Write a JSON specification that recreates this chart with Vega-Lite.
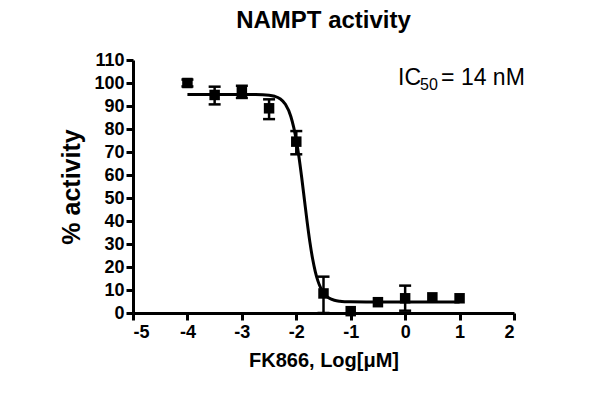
{
  "$schema": "https://vega.github.io/schema/vega-lite/v6.json",
  "autosize": "none",
  "width": 381,
  "height": 253,
  "padding": {"left": 133, "top": 60, "right": 86, "bottom": 81},
  "background": "white",
  "title": {
    "text": "NAMPT activity",
    "font": "Liberation Sans",
    "fontSize": 24,
    "fontWeight": "bold",
    "color": "black",
    "anchor": "middle",
    "frame": "group",
    "offset": 18
  },
  "config": {
    "view": {"stroke": null},
    "axis": {
      "grid": false,
      "domainColor": "black",
      "domainWidth": 3,
      "tickColor": "black",
      "tickWidth": 3,
      "tickSize": 7,
      "labelFont": "Liberation Sans",
      "labelFontWeight": "bold",
      "labelFontSize": 18,
      "labelColor": "black",
      "titleFont": "Liberation Sans",
      "titleFontWeight": "bold",
      "titleColor": "black"
    }
  },
  "datasets": {
    "points": [
      {"logc": -4.0, "activity": 100.0, "lo": 98.5, "hi": 101.5},
      {"logc": -3.5, "activity": 94.8, "lo": 90.7, "hi": 98.4},
      {"logc": -3.0, "activity": 96.0, "lo": 93.5, "hi": 98.8},
      {"logc": -2.5, "activity": 89.0, "lo": 84.3, "hi": 92.9},
      {"logc": -2.0, "activity": 74.5, "lo": 69.0, "hi": 79.1},
      {"logc": -1.5, "activity": 8.5, "lo": 0.0, "hi": 15.8},
      {"logc": -1.0, "activity": 0.8, "lo": null, "hi": null},
      {"logc": -0.5, "activity": 4.7, "lo": null, "hi": null},
      {"logc": 0.0, "activity": 6.4, "lo": 1.0, "hi": 11.9},
      {"logc": 0.5, "activity": 6.8, "lo": null, "hi": null},
      {"logc": 1.0, "activity": 6.4, "lo": null, "hi": null}
    ],
    "curve": [
      {"logc": -4.0, "activity": 95.0},
      {"logc": -3.5, "activity": 95.0},
      {"logc": -3.0, "activity": 95.0},
      {"logc": -2.75, "activity": 94.96},
      {"logc": -2.5, "activity": 94.67},
      {"logc": -2.4, "activity": 94.22},
      {"logc": -2.3, "activity": 93.16},
      {"logc": -2.2, "activity": 90.73},
      {"logc": -2.1, "activity": 85.46},
      {"logc": -2.0, "activity": 75.17},
      {"logc": -1.95, "activity": 67.68},
      {"logc": -1.9, "activity": 58.78},
      {"logc": -1.85, "activity": 49.12},
      {"logc": -1.8, "activity": 39.52},
      {"logc": -1.75, "activity": 30.82},
      {"logc": -1.7, "activity": 23.56},
      {"logc": -1.65, "activity": 17.92},
      {"logc": -1.6, "activity": 13.76},
      {"logc": -1.55, "activity": 10.81},
      {"logc": -1.5, "activity": 8.79},
      {"logc": -1.45, "activity": 7.43},
      {"logc": -1.4, "activity": 6.52},
      {"logc": -1.3, "activity": 5.53},
      {"logc": -1.2, "activity": 5.11},
      {"logc": -1.1, "activity": 4.93},
      {"logc": -1.0, "activity": 4.85},
      {"logc": -0.5, "activity": 4.8},
      {"logc": 0.0, "activity": 4.8},
      {"logc": 0.5, "activity": 4.8},
      {"logc": 1.0, "activity": 4.8}
    ]
  },
  "encoding": {
    "x": {
      "type": "quantitative",
      "scale": {"domain": [-5, 2], "nice": false, "zero": false},
      "axis": {
        "title": "FK866, Log[μM]",
        "titleFontSize": 20,
        "titlePadding": 9,
        "values": [-5, -4, -3, -2, -1, 0, 1, 2],
        "labelExpr": "'' + datum.value",
        "labelPadding": 3
      }
    },
    "y": {
      "type": "quantitative",
      "scale": {"domain": [0, 110], "nice": false},
      "axis": {
        "title": "% activity",
        "titleFontSize": 25,
        "titlePadding": 9,
        "values": [0, 10, 20, 30, 40, 50, 60, 70, 80, 90, 100, 110],
        "labelPadding": 2
      }
    }
  },
  "layer": [
    {
      "data": {"name": "curve"},
      "mark": {"type": "line", "color": "black", "strokeWidth": 3, "interpolate": "monotone"},
      "encoding": {
        "x": {"field": "logc", "type": "quantitative"},
        "y": {"field": "activity", "type": "quantitative"}
      }
    },
    {
      "data": {"name": "points"},
      "transform": [{"filter": "datum.hi != null"}],
      "mark": {
        "type": "errorbar",
        "color": "black",
        "opacity": 1,
        "ticks": {"size": 12, "thickness": 2.5, "color": "black", "opacity": 1},
        "rule": {"strokeWidth": 2.5, "color": "black", "opacity": 1}
      },
      "encoding": {
        "x": {"field": "logc", "type": "quantitative"},
        "y": {"field": "lo", "type": "quantitative"},
        "y2": {"field": "hi"}
      }
    },
    {
      "data": {"name": "points"},
      "mark": {"type": "point", "shape": "square", "filled": true, "color": "black", "size": 110, "opacity": 1},
      "encoding": {
        "x": {"field": "logc", "type": "quantitative"},
        "y": {"field": "activity", "type": "quantitative"}
      }
    },
    {
      "data": {"values": [{}]},
      "mark": {"type": "text", "text": "IC", "font": "Liberation Sans", "fontSize": 23, "align": "left", "baseline": "alphabetic", "color": "black"},
      "encoding": {"x": {"datum": -0.13}, "y": {"datum": 99.1}}
    },
    {
      "data": {"values": [{}]},
      "mark": {"type": "text", "text": "50", "font": "Liberation Sans", "fontSize": 16, "align": "left", "baseline": "alphabetic", "color": "black", "dx": 22, "dy": 5},
      "encoding": {"x": {"datum": -0.13}, "y": {"datum": 99.1}}
    },
    {
      "data": {"values": [{}]},
      "mark": {"type": "text", "text": "= 14 nM", "font": "Liberation Sans", "fontSize": 23, "align": "left", "baseline": "alphabetic", "color": "black", "dx": 43},
      "encoding": {"x": {"datum": -0.13}, "y": {"datum": 99.1}}
    }
  ]
}
